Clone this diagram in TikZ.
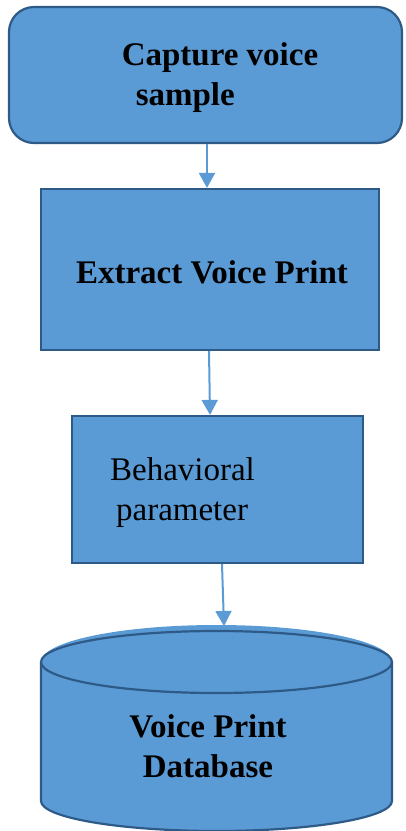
\documentclass[tikz,border=0pt]{standalone}
\usepackage{fontspec}
\setmainfont{Liberation Serif}
\usetikzlibrary{arrows.meta}
\definecolor{boxfill}{HTML}{5B9BD5}
\definecolor{boxline}{HTML}{2E5A87}

\begin{document}
\begin{tikzpicture}[x=1pt,y=-1pt,
    box/.style={draw=boxline, fill=boxfill, line width=2.2pt, inner sep=0pt},
    txt/.style={inner sep=0pt, align=left, font=\fontsize{33}{40}\selectfont},
    flow/.style={boxfill, line width=2pt, -{Triangle[width=16pt,length=15pt]}}]
    \useasboundingbox (0,0) rectangle (405,831);

    \node[box, rounded corners=25pt, minimum width=393pt, minimum height=136pt] (cap) at (205.5,75) {};
    \node[box, minimum width=338pt, minimum height=161pt] (ext) at (210,269.5) {};
    \node[box, minimum width=291pt, minimum height=147pt] (beh) at (217.5,489.5) {};

    \fill[boxfill] (41,662) -- (41,801) arc[start angle=180, end angle=360, x radius=175.5pt, y radius=30pt]
        -- (392,662) arc[start angle=0, end angle=180, x radius=175.5pt, y radius=37pt] -- cycle;
    \draw[boxline, line width=2.2pt] (41,662) -- (41,801) arc[start angle=180, end angle=360, x radius=175.5pt, y radius=30pt] -- (392,662);
    \draw[boxline, line width=2.2pt] (216.5,662) ellipse[x radius=175.5pt, y radius=31pt];
    \coordinate (dbtop) at (224,626);

    \node[txt, font=\fontsize{33}{40}\selectfont\bfseries] (t1) at (220,78) {Capture voice\\\hspace*{14pt}sample};
    \node[txt, font=\fontsize{33}{40}\selectfont\bfseries] (t2) at (212,272) {Extract Voice Print};
    \node[txt] (t3) at (182.5,493) {Behavioral\\\hspace*{6pt}parameter};
    \node[txt, align=center, font=\fontsize{33}{40}\selectfont\bfseries] (db) at (208,746) {Voice Print\\Database};

    \draw[flow] ([xshift=1.5pt]cap.south) -- ([xshift=-3pt]ext.north);
    \draw[flow] ([xshift=-1pt]ext.south) -- ([xshift=-7.5pt]beh.north);
    \draw[flow] ([xshift=4.5pt]beh.south) -- (dbtop);

\end{tikzpicture}
\end{document}
